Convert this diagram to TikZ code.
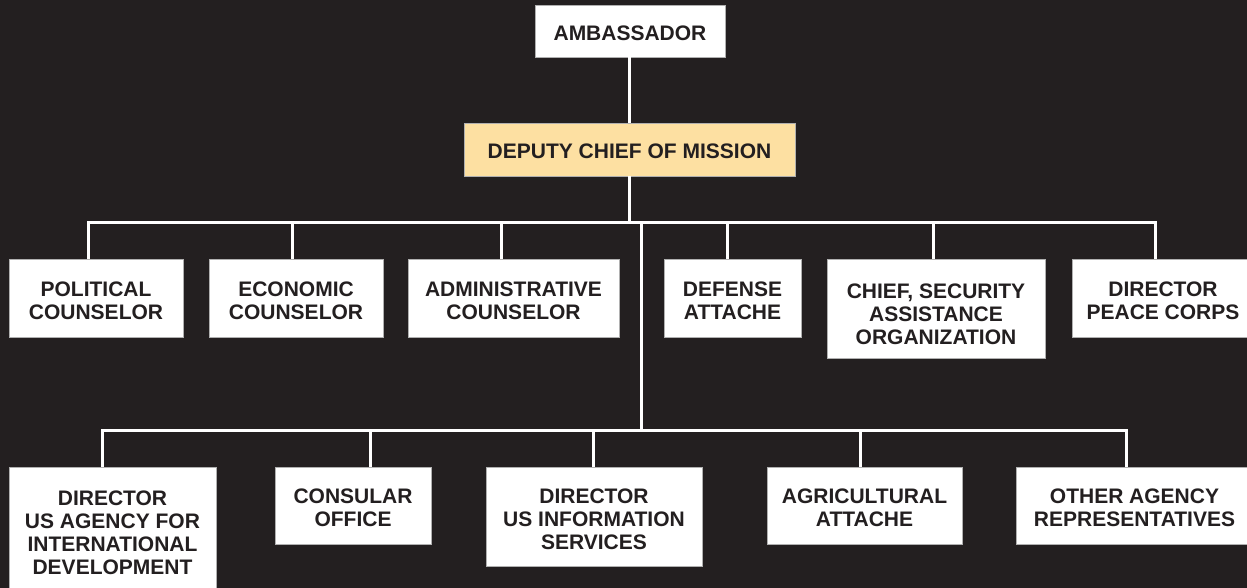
\documentclass[tikz,border=0pt]{standalone}
\usepackage{fontspec}
\setmainfont{Liberation Sans}
\definecolor{bg}{HTML}{231F20}
\definecolor{ink}{HTML}{231F20}
\definecolor{dcmfill}{HTML}{FDE0A2}
\definecolor{edge}{HTML}{B0B0B0}
\begin{document}
\begin{tikzpicture}[x=1pt,y=-1pt,
  box/.style={rectangle,draw=edge,line width=0.8pt,fill=white,inner sep=0pt,align=center,
    text=ink,font=\fontsize{21}{23}\selectfont\bfseries,text height=19pt,text depth=0pt},
  two/.style={text height=42pt},
  three/.style={text height=65pt},
  four/.style={text height=88pt},
  wire/.style={draw=white,line width=3pt}]
\useasboundingbox (0,0) rectangle (1247,588);
\fill[bg] (0,0) rectangle (1247,588);
% top
\node[box,minimum width=190pt,minimum height=52pt] (amb) at (630,31) {AMBASSADOR};
\node[box,fill=dcmfill,minimum width=331pt,minimum height=53pt] (dcm) at (629.5,149.5) {DEPUTY CHIEF OF MISSION};
% upper row
\node[box,two,minimum width=174pt,minimum height=78pt] (pol) at (96,298) {POLITICAL\\COUNSELOR};
\node[box,two,minimum width=174pt,minimum height=78pt] (eco) at (296,298) {ECONOMIC\\COUNSELOR};
\node[box,two,minimum width=211pt,minimum height=78pt] (adm) at (513.5,298) {ADMINISTRATIVE\\COUNSELOR};
\node[box,two,minimum width=137pt,minimum height=78pt] (def) at (732.5,298) {DEFENSE\\ATTACHE};
\node[box,text height=72pt,minimum width=218pt,minimum height=99pt] (chf) at (936,308.5) {CHIEF, SECURITY\\ASSISTANCE\\ORGANIZATION};
\node[box,two,minimum width=182pt,minimum height=78pt] (pc) at (1163,298) {DIRECTOR\\PEACE CORPS};
% lower row
\node[box,four,minimum width=207pt,minimum height=126pt] (aid) at (112.5,530) {DIRECTOR\\US AGENCY FOR\\INTERNATIONAL\\DEVELOPMENT};
\node[box,two,minimum width=156pt,minimum height=77pt] (con) at (353,505.5) {CONSULAR\\OFFICE};
\node[box,three,minimum width=216pt,minimum height=99pt] (usis) at (594,516.5) {DIRECTOR\\US INFORMATION\\SERVICES};
\node[box,two,minimum width=195pt,minimum height=77pt] (agr) at (864.5,505.5) {AGRICULTURAL\\ATTACHE};
\node[box,two,minimum width=237pt,minimum height=77pt] (oth) at (1134.5,505.5) {OTHER AGENCY\\REPRESENTATIVES};
% bus coordinates
\coordinate (ub) at (629,222);
\coordinate (ubl) at (88,222);
\coordinate (ubr) at (1155,222);
\coordinate (tr) at (641,222);
\coordinate (lb) at (641,430);
\coordinate (lbl) at (102,430);
\coordinate (lbr) at (1126,430);
% connectors
\draw[wire] (amb.south -| ub) -- (dcm.north -| ub);
\draw[wire] (dcm.south -| ub) -- (ub);
\draw[wire] (pol.north -| ubl) -- (ubl) -- (ubr) -- (pc.north -| ubr);
\draw[wire] (eco.north -| 292,0) -- (292,222);
\draw[wire] (adm.north -| 501,0) -- (501,222);
\draw[wire] (def.north -| 727,0) -- (727,222);
\draw[wire] (chf.north -| 933,0) -- (933,222);
\draw[wire] (tr) -- (lb);
\draw[wire] (aid.north -| lbl) -- (lbl) -- (lbr) -- (oth.north -| lbr);
\draw[wire] (con.north -| 370,0) -- (370,430);
\draw[wire] (usis.north -| 593,0) -- (593,430);
\draw[wire] (agr.north -| 860,0) -- (860,430);
\end{tikzpicture}
\end{document}
